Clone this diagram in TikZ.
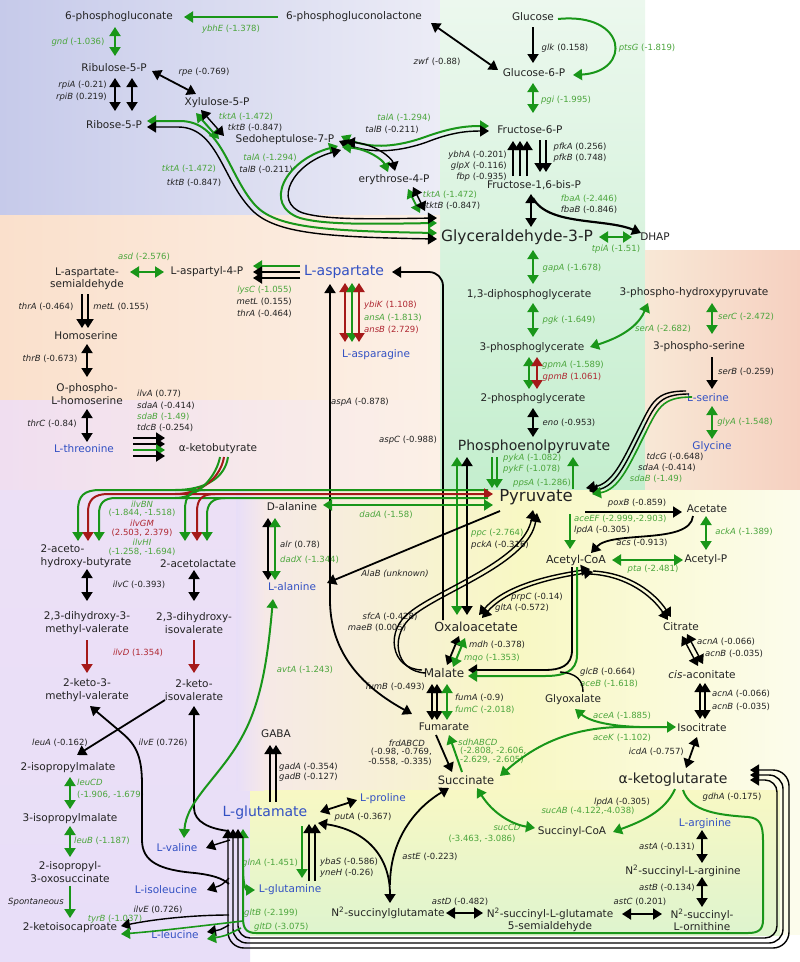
\documentclass[tikz,border=0pt]{standalone}
\usepackage{fontspec}
\setmainfont{DejaVu Sans}
\usetikzlibrary{arrows.meta}
\definecolor{gA}{RGB}{25,150,25}
\definecolor{gT}{RGB}{75,165,60}
\definecolor{rA}{RGB}{165,25,25}
\definecolor{rT}{RGB}{175,40,50}
\definecolor{bT}{RGB}{50,80,195}
\definecolor{kT}{RGB}{35,35,35}
\definecolor{bgBlue}{RGB}{198,202,234}
\definecolor{bgBlueW}{RGB}{236,236,246}
\definecolor{bgGreenT}{RGB}{236,248,238}
\definecolor{bgGreenB}{RGB}{196,238,206}
\definecolor{bgPeach}{RGB}{250,224,204}
\definecolor{bgPeachW}{RGB}{252,240,230}
\definecolor{bgPink}{RGB}{240,222,240}
\definecolor{bgSalmon}{RGB}{246,208,192}
\definecolor{bgSalmonW}{RGB}{248,232,214}
\definecolor{bgLav}{RGB}{236,224,246}
\definecolor{bgLavB}{RGB}{232,222,248}
\definecolor{bgPinkY}{RGB}{246,232,232}
\definecolor{bgYel}{RGB}{248,248,196}
\definecolor{bgYelW}{RGB}{252,252,236}
\definecolor{bgGbox}{RGB}{222,244,206}
\tikzset{
  met/.style={font=\fontsize{10.5}{12.5}\selectfont, text=kT, inner sep=0.5pt, align=center},
  aam/.style={met, text=bT},
  bigm/.style={font=\fontsize{14}{16}\selectfont, text=kT, inner sep=0.5pt},
  bigaa/.style={bigm, text=bT},
  gn/.style={font=\fontsize{8.5}{9.8}\selectfont, text=kT, inner sep=0pt},
  gng/.style={gn, text=gT},
  gnr/.style={gn, text=rT},
  kl/.style={draw=black, line width=1.8pt},
  kt/.style={draw=black, line width=1.4pt},
  gl/.style={draw=gA, line width=2pt},
  rl/.style={draw=rA, line width=2pt},
}
\begin{document}
\begin{tikzpicture}[x=1pt,y=-1pt,>={Triangle[width=11pt,length=9pt]},line join=round]
\useasboundingbox (0,0) rectangle (800,962);
% ---------- backgrounds ----------
\fill[white] (0,0) rectangle (800,962);
\shade[left color=bgBlue, right color=bgBlueW] (0,0) rectangle (440,215);
\shade[top color=bgGreenT, bottom color=bgGreenB] (440,0) rectangle (645,490);
\shade[left color=bgPeach, right color=bgPeachW] (0,215) rectangle (440,400);
\shade[left color=bgPink, right color=bgPeachW] (0,400) rectangle (440,490);
\shade[left color=bgSalmonW, right color=bgSalmon] (645,250) rectangle (800,490);
\shade[top color=bgLav, bottom color=bgLavB] (0,490) rectangle (250,962);
\shade[left color=bgPinkY, right color=bgYel] (250,490) rectangle (520,790);
\shade[left color=bgYel, right color=bgYelW] (520,490) rectangle (800,790);
\shade[top color=bgYel, bottom color=bgGbox] (250,790) rectangle (780,935);
\fill[bgYelW] (780,790) rectangle (800,935);
\shade[left color=bgLavB, right color=bgPinkY] (236,490) rectangle (264,790);

% ---------- metabolites ----------
\node[met] (pg6) at (119,17) {6-phosphogluconate};
\node[met] (pgl) at (354,17) {6-phosphogluconolactone};
\node[met] (glc) at (533,17) {Glucose};
\node[met] (g6p) at (534,73) {Glucose-6-P};
\node[met] (ru5p) at (114,68) {Ribulose-5-P};
\node[met] (x5p) at (217,103) {Xylulose-5-P};
\node[met] (r5p) at (114,125) {Ribose-5-P};
\node[met] (s7p) at (285,140) {Sedoheptulose-7-P};
\node[met] (f6p) at (530,130) {Fructose-6-P};
\node[met] (e4p) at (394,180) {erythrose-4-P};
\node[met] (fbp) at (534,185) {Fructose-1,6-bis-P};
\node[font=\fontsize{15.5}{18}\selectfont,text=kT,inner sep=0.5pt] (g3p) at (517,237) {Glyceraldehyde-3-P};
\node[met] (dhap) at (655,237) {DHAP};
\node[met] (bpg) at (529,295) {1,3-diphosphoglycerate};
\node[met] (pg3) at (532,348) {3-phosphoglycerate};
\node[met] (pg2) at (533,399) {2-phosphoglycerate};
\node[bigm] (pep) at (534,447) {Phosphoenolpyruvate};
\node[font=\fontsize{16.5}{19}\selectfont,text=kT,inner sep=0.5pt] (pyr) at (536,497) {Pyruvate};
\node[met] (php) at (694,293) {3-phospho-hydroxypyruvate};
\node[met] (pser) at (699,347) {3-phospho-serine};
\node[aam] (ser) at (708,398) {L-serine};
\node[aam] (gly) at (712,447) {Glycine};
\node[bigaa] (asp) at (344,272) {L-aspartate};
\node[aam] (asn) at (376,355) {L-asparagine};
\node[met] (asp4p) at (207,272) {L-aspartyl-4-P};
\node[met] (asa) at (87,279) {L-aspartate-\\semialdehyde};
\node[met] (hom) at (86,336) {Homoserine};
\node[met] (ohs) at (87,394) {O-phospho-\\L-homoserine};
\node[aam] (thr) at (84,449) {L-threonine};
\node[met] (akb) at (218,449) {α-ketobutyrate};
\node[met,align=left,anchor=west] (aohb) at (40,556) {2-aceto-\\hydroxy-butyrate};
\node[met] (alac) at (198,564) {2-acetolactate};
\node[met] (dhmv) at (87,623) {2,3-dihydroxy-3-\\methyl-valerate};
\node[met] (dhiv) at (194,623) {2,3-dihydroxy-\\isovalerate};
\node[met] (kmv) at (87,690) {2-keto-3-\\methyl-valerate};
\node[met] (kiv) at (194,690) {2-keto-\\isovalerate};
\node[met] (ipm) at (68,768) {2-isopropylmalate};
\node[met] (ipm3) at (70,819) {3-isopropylmalate};
\node[met] (ipos) at (70,872) {2-isopropyl-\\3-oxosuccinate};
\node[met] (kic) at (70,928) {2-ketoisocaproate};
\node[aam] (val) at (177,848) {L-valine};
\node[aam] (ile) at (166,890) {L-isoleucine};
\node[aam] (leu) at (175,935) {L-leucine};
\node[met] (dala) at (292,507) {D-alanine};
\node[aam] (lala) at (292,587) {L-alanine};
\node[met,font=\fontsize{12.5}{14}\selectfont] (oaa) at (476,627) {Oxaloacetate};
\node[met,font=\fontsize{12}{14}\selectfont] (mal) at (444,673) {Malate};
\node[met] (fum) at (444,727) {Fumarate};
\node[met,font=\fontsize{11.5}{14}\selectfont] (succ) at (466,780) {Succinate};
\node[met] (glx) at (573,700) {Glyoxalate};
\node[met] (cit) at (681,627) {Citrate};
\node[met] (cis) at (702,675) {\textit{cis}-aconitate};
\node[met] (icit) at (702,728) {Isocitrate};
\node[bigm] (akg) at (673,780) {α-ketoglutarate};
\node[met] (succoa) at (572,832) {Succinyl-CoA};
\node[met,font=\fontsize{11}{13}\selectfont] (accoa) at (576,560) {Acetyl-CoA};
\node[met] (acet) at (707,509) {Acetate};
\node[met] (acp) at (706,560) {Acetyl-P};
\node[bigaa] (glu) at (265,813) {L-glutamate};
\node[met] (gaba) at (276,734) {GABA};
\node[aam] (pro) at (383,799) {L-proline};
\node[aam] (gln) at (290,890) {L-glutamine};
\node[met] (nsg) at (388,913) {N\textsuperscript{2}-succinylglutamate};
\node[met] (nsgs) at (550,920) {N\textsuperscript{2}-succinyl-L-glutamate\\5-semialdehyde};
\node[met] (nso) at (702,920) {N\textsuperscript{2}-succinyl-\\L-ornithine};
\node[met] (nsa) at (683,871) {N\textsuperscript{2}-succinyl-L-arginine};
\node[aam] (arg) at (705,824) {L-arginine};

% ---------- gene labels ----------
\node[gng] (t1) at (78,42) {\textit{gnd} (-1.036)};
\node[gng] (t2) at (231,29) {\textit{ybhE} (-1.378)};
\node[gn] (t3) at (437,62) {\textit{zwf} (-0.88)};
\node[gn] (t4) at (565,48) {\textit{glk} (0.158)};
\node[gng] (t5) at (647,48) {\textit{ptsG} (-1.819)};
\node[gng] (t6) at (566,100) {\textit{pgi} (-1.995)};
\node[gn] (t7) at (204,72) {\textit{rpe} (-0.769)};
\node[gn,anchor=east] (t8) at (107,85) {\textit{rpiA} (-0.21)};
\node[gn,anchor=east] (t9) at (107,97) {\textit{rpiB} (0.219)};
\node[gng] (t10) at (246,117) {\textit{tktA} (-1.472)};
\node[gn] (t11) at (255,128) {\textit{tktB} (-0.847)};
\node[gng] (t12) at (189,169) {\textit{tktA} (-1.472)};
\node[gn] (t13) at (194,183) {\textit{tktB} (-0.847)};
\node[gng] (t14) at (270,158) {\textit{talA} (-1.294)};
\node[gn] (t15) at (266,170) {\textit{talB} (-0.211)};
\node[gng] (t16) at (404,118) {\textit{talA} (-1.294)};
\node[gn] (t17) at (392,130) {\textit{talB} (-0.211)};
\node[gng] (t18) at (450,195) {\textit{tktA} (-1.472)};
\node[gn] (t19) at (453,206) {\textit{tktB} (-0.847)};
\node[gn,anchor=east] (t20) at (507,155) {\textit{ybhA} (-0.201)};
\node[gn,anchor=east] (t21) at (507,166) {\textit{glpX} (-0.116)};
\node[gn,anchor=east] (t22) at (507,177) {\textit{fbp} (-0.935)};
\node[gn] (t23) at (580,147) {\textit{pfkA} (0.256)};
\node[gn] (t24) at (580,158) {\textit{pfkB} (0.748)};
\node[gng] (t25) at (589,199) {\textit{fbaA} (-2.446)};
\node[gn] (t26) at (589,210) {\textit{fbaB} (-0.846)};
\node[gng] (t27) at (616,249) {\textit{tpiA} (-1.51)};
\node[gng] (t28) at (572,268) {\textit{gapA} (-1.678)};
\node[gng] (t29) at (569,320) {\textit{pgk} (-1.649)};
\node[gng] (t30) at (573,365) {\textit{gpmA} (-1.589)};
\node[gnr] (t31) at (572,377) {\textit{gpmB} (1.061)};
\node[gn] (t32) at (569,423) {\textit{eno} (-0.953)};
\node[gng] (t33) at (663,329) {\textit{serA} (-2.682)};
\node[gng] (t34) at (746,317) {\textit{serC} (-2.472)};
\node[gn] (t35) at (746,372) {\textit{serB} (-0.259)};
\node[gng] (t36) at (745,422) {\textit{glyA} (-1.548)};
\node[gn] (t37) at (675,457) {\textit{tdcG} (-0.648)};
\node[gn] (t38) at (667,468) {\textit{sdaA} (-0.414)};
\node[gng] (t39) at (656,479) {\textit{sdaB} (-1.49)};
\node[gng,anchor=west] (t40) at (503,458) {\textit{pykA} (-1.082)};
\node[gng,anchor=west] (t41) at (503,469) {\textit{pykF} (-1.078)};
\node[gng,anchor=west] (t42) at (513,483) {\textit{ppsA} (-1.286)};
\node[gng] (t43) at (144,257) {\textit{asd} (-2.576)};
\node[gng,anchor=east] (t44) at (292,290) {\textit{lysC} (-1.055)};
\node[gn,anchor=east] (t45) at (292,302) {\textit{metL} (0.155)};
\node[gn,anchor=east] (t46) at (292,314) {\textit{thrA} (-0.464)};
\node[gnr,anchor=west] (t47) at (364,305) {\textit{ybiK} (1.108)};
\node[gng,anchor=west] (t48) at (364,318) {\textit{ansA} (-1.813)};
\node[gnr,anchor=west] (t49) at (364,330) {\textit{ansB} (2.729)};
\node[gn] (t50) at (46,307) {\textit{thrA} (-0.464)};
\node[gn] (t51) at (121,307) {\textit{metL} (0.155)};
\node[gn] (t52) at (50,359) {\textit{thrB} (-0.673)};
\node[gn] (t53) at (52,424) {\textit{thrC} (-0.84)};
\node[gn,anchor=west] (t54) at (137,394) {\textit{ilvA} (0.77)};
\node[gn,anchor=west] (t55) at (137,406) {\textit{sdaA} (-0.414)};
\node[gng,anchor=west] (t56) at (137,417) {\textit{sdaB} (-1.49)};
\node[gn,anchor=west] (t57) at (137,428) {\textit{tdcB} (-0.254)};
\node[gn] (t58) at (360,402) {\textit{aspA} (-0.878)};
\node[gn] (t59) at (408,440) {\textit{aspC} (-0.988)};
\node[gng] (t60) at (142,504) {\textit{ilvBN}};
\node[gng] (t61) at (142,513) {(-1.844, -1.518)};
\node[gnr] (t62) at (142,523) {\textit{ilvGM}};
\node[gnr] (t63) at (142,533) {(2.503, 2.379)};
\node[gng] (t64) at (142,542) {\textit{ilvHI}};
\node[gng] (t65) at (142,552) {(-1.258, -1.694)};
\node[gn] (t66) at (139,585) {\textit{ilvC} (-0.393)};
\node[gnr] (t67) at (138,653) {\textit{ilvD} (1.354)};
\node[gng] (t68) at (386,515) {\textit{dadA} (-1.58)};
\node[gn,anchor=west] (t69) at (280,545) {\textit{alr} (0.78)};
\node[gng,anchor=west] (t70) at (280,560) {\textit{dadX} (-1.344)};
\node[gn] (t71) at (395,574) {\textit{AlaB (unknown)}};
\node[gng] (t72) at (305,670) {\textit{avtA} (-1.243)};
\node[gng,anchor=west] (t73) at (471,533) {\textit{ppc} (-2.764)};
\node[gn,anchor=west] (t74) at (471,545) {\textit{pckA} (-0.316)};
\node[gn] (t75) at (637,503) {\textit{poxB} (-0.859)};
\node[gng,anchor=west] (t76) at (574,519) {\textit{aceEF} (-2.999,-2.903)};
\node[gn,anchor=west] (t77) at (574,530) {\textit{lpdA} (-0.305)};
\node[gn] (t78) at (642,543) {\textit{acs} (-0.913)};
\node[gng] (t79) at (744,532) {\textit{ackA} (-1.389)};
\node[gng] (t80) at (653,569) {\textit{pta} (-2.481)};
\node[gn] (t81) at (537,597) {\textit{prpC} (-0.14)};
\node[gn] (t82) at (522,608) {\textit{gltA} (-0.572)};
\node[gn] (t83) at (390,617) {\textit{sfcA} (-0.428)};
\node[gn] (t84) at (377,628) {\textit{maeB} (0.005)};
\node[gn,anchor=west] (t85) at (469,645) {\textit{mdh} (-0.378)};
\node[gng,anchor=west] (t86) at (464,658) {\textit{mqo} (-1.353)};
\node[gn,anchor=east] (t87) at (425,687) {\textit{fumB} (-0.493)};
\node[gn,anchor=west] (t88) at (455,698) {\textit{fumA} (-0.9)};
\node[gng,anchor=west] (t89) at (455,710) {\textit{fumC} (-2.018)};
\node[gn,anchor=west] (t90) at (580,672) {\textit{glcB} (-0.664)};
\node[gng,anchor=west] (t91) at (580,684) {\textit{aceB} (-1.618)};
\node[gng] (t92) at (622,716) {\textit{aceA} (-1.885)};
\node[gng] (t93) at (622,738) {\textit{aceK} (-1.102)};
\node[gn,anchor=west] (t94) at (697,642) {\textit{acnA} (-0.066)};
\node[gn,anchor=west] (t95) at (705,654) {\textit{acnB} (-0.035)};
\node[gn,anchor=west] (t96) at (712,694) {\textit{acnA} (-0.066)};
\node[gn,anchor=west] (t97) at (712,707) {\textit{acnB} (-0.035)};
\node[gn,anchor=east] (t98) at (684,752) {\textit{icdA} (-0.757)};
\node[gn,anchor=east] (t99) at (425,743) {\textit{frdABCD}};
\node[gn,anchor=east] (t100) at (432,752) {(-0.98, -0.769,};
\node[gn,anchor=east] (t101) at (432,762) {-0.558, -0.335)};
\node[gng,anchor=west] (t102) at (458,742) {\textit{sdhABCD}};
\node[gng,anchor=west] (t103) at (460,751) {(-2.808, -2.606,};
\node[gng,anchor=west] (t104) at (460,760) {-2.629, -2.605)};
\node[gn] (t105) at (622,802) {\textit{lpdA} (-0.305)};
\node[gng] (t106) at (588,811) {\textit{sucAB} (-4.122,-4.038)};
\node[gn] (t107) at (732,797) {\textit{gdhA} (-0.175)};
\node[gng] (t108) at (507,827) {\textit{sucCD}};
\node[gng] (t109) at (482,839) {(-3.463, -3.086)};
\node[gn,anchor=west] (t110) at (279,767) {\textit{gadA} (-0.354)};
\node[gn,anchor=west] (t111) at (279,777) {\textit{gadB} (-0.127)};
\node[gn] (t112) at (363,817) {\textit{putA} (-0.367)};
\node[gng] (t113) at (270,863) {\textit{glnA} (-1.451)};
\node[gn,anchor=west] (t114) at (320,862) {\textit{ybaS} (-0.586)};
\node[gn,anchor=west] (t115) at (320,873) {\textit{yneH} (-0.26)};
\node[gng,anchor=west] (t116) at (244,913) {\textit{gltB} (-2.199)};
\node[gng,anchor=west] (t117) at (254,927) {\textit{gltD} (-3.075)};
\node[gn] (t118) at (430,857) {\textit{astE} (-0.223)};
\node[gn] (t119) at (460,902) {\textit{astD} (-0.482)};
\node[gn] (t120) at (640,902) {\textit{astC} (0.201)};
\node[gn] (t121) at (667,847) {\textit{astA} (-0.131)};
\node[gn] (t122) at (667,888) {\textit{astB} (-0.134)};
\node[gn] (t123) at (60,743) {\textit{leuA} (-0.162)};
\node[gn] (t124) at (163,743) {\textit{ilvE} (0.726)};
\node[gng,anchor=west] (t125) at (77,782) {\textit{leuCD}};
\node[gng,anchor=west] (t126) at (77,795) {(-1.906, -1.679)};
\node[gng,anchor=west] (t127) at (74,841) {\textit{leuB} (-1.187)};
\node[gn] (t128) at (36,902) {\textit{Spontaneous}};
\node[gn] (t129) at (158,910) {\textit{ilvE} (0.726)};
\node[gng] (t130) at (115,919) {\textit{tyrB} (-1.037)};

% ---------- pentose phosphate / glycolysis ----------
\draw[gl,<->] (115,27) -- (115,56);
\draw[gl,->] (278,17) -- (184,17);
\draw[kl,<->] (431,23) -- (498,70);
\draw[kl,->] (533,27) -- (533,63);
\draw[gl,->] (558,19) .. controls (628,12) and (632,72) .. (573,75);
\draw[gl,<->] (533,83) -- (533,113);
\draw[kl,<->] (152,71) -- (196,94);
\draw[kl,<->] (115,78) -- (115,111);
\draw[kl,<->] (132,78) -- (132,111);
\draw[gl,<->] (196,113) -- (219,139);
\draw[kt,<->] (201,110) -- (224,136);
% R5P <-> G3P
\draw[gl,<->] (147,121) -- (180,121) .. controls (222,121) and (228,175) .. (255,205) .. controls (275,227) and (320,231) .. (437,233);
\draw[kt,<->] (147,127) -- (178,127) .. controls (217,127) and (222,178) .. (250,208) .. controls (272,233) and (320,237) .. (437,239);
% S7P loop to G3P
\draw[gl,<->] (338,146) .. controls (285,160) and (262,205) .. (300,218) .. controls (325,225) and (370,224) .. (437,223);
\draw[kt,<->] (341,150) .. controls (293,163) and (272,202) .. (303,213) .. controls (327,220) and (370,219) .. (437,218);
% S7P <-> F6P
\draw[gl,<->] (341,136) .. controls (372,150) and (400,146) .. (425,137) .. controls (450,128) and (465,126) .. (489,126);
\draw[kt,<->] (339,141) .. controls (372,155) and (402,151) .. (427,142) .. controls (450,133) and (465,131) .. (489,131);
% S7P <-> E4P
\draw[gl,<->] (342,147) .. controls (368,149) and (383,160) .. (388,172);
\draw[kt,<->] (346,142) .. controls (375,144) and (392,158) .. (395,171);
% E4P <-> G3P
\draw[gl,<->] (408,189) -- (420,213);
\draw[kt,<->] (413,187) -- (425,211);
% F6P / FBP
\draw[kl,->] (540,140) -- (540,172);
\draw[kl,->] (546,140) -- (546,172);
\draw[kl,->] (513,176) -- (513,141);
\draw[kl,->] (520,176) -- (520,141);
\draw[kl,->] (527,176) -- (527,141);
\draw[kl,<->] (531,194) -- (531,227);
\draw[kl,line width=2.2pt,->] (533,198) .. controls (548,226) and (605,218) .. (641,233);
\draw[gl,<->] (599,237) -- (632,237);
\draw[gl,<->] (533,250) -- (533,284);
\draw[gl,<->] (533,303) -- (533,337);
\draw[gl,<->] (529,357) -- (529,389);
\draw[rl,<->] (537,357) -- (537,389);
\draw[kl,<->] (533,408) -- (533,437);
% PEP / pyruvate
\draw[gl,->] (492,457) -- (492,488);
\draw[gl,->] (497,457) -- (497,488);
\draw[gl,->] (573,489) -- (573,457);
\draw[gl,<->] (457,457) -- (457,615);
\draw[kl,<->] (467,457) -- (467,615);
% serine
\draw[gl,<->] (590,347) .. controls (628,335) and (640,322) .. (648,303);
\draw[gl,<->] (712,303) -- (712,334);
\draw[kl,->] (712,357) -- (712,389);
\draw[gl,<->] (712,406) -- (712,439);
\draw[kt,->] (686,391) .. controls (655,391) and (652,402) .. (637,432) .. controls (622,462) and (612,484) .. (586,488);
\draw[kt,->,shift={(3,3)}] (686,391) .. controls (655,391) and (652,402) .. (637,432) .. controls (622,462) and (612,484) .. (586,488);
\draw[gl,line width=1.6pt,->,shift={(6,6)}] (686,391) .. controls (655,391) and (652,402) .. (637,432) .. controls (622,462) and (612,484) .. (586,488);

% ---------- aspartate family ----------
\draw[gl,<->] (130,272) -- (164,272);
\draw[gl,->] (300,266) -- (253,266);
\draw[kl,->] (300,272) -- (253,272);
\draw[kl,->] (300,278) -- (253,278);
\draw[rl,<->] (345,283) -- (345,342);
\draw[gl,<->] (352,283) -- (352,342);
\draw[rl,<->] (359,283) -- (359,342);
\draw[kl,<->] (330,284) -- (330,600) .. controls (330,660) and (372,692) .. (412,714);
\draw[kl,->,rounded corners=14] (443,620) -- (443,272) -- (392,272);
\draw[kl,->] (82,294) -- (82,328);
\draw[kl,->] (88,294) -- (88,328);
\draw[kl,<->] (87,344) -- (87,377);
\draw[kl,<->] (87,409) -- (87,442);
\draw[kl,->] (133,438) -- (165,438);
\draw[kl,->] (133,444) -- (165,444);
\draw[gl,->] (133,450) -- (165,450);
\draw[kl,->] (133,456) -- (165,456);

% ---------- branched chain ----------
\draw[gl] (228,457) .. controls (225,478) and (205,490) .. (175,490);
\draw[rl] (224,457) .. controls (221,476) and (203,494) .. (175,494);
\draw[gl] (220,457) .. controls (217,474) and (200,498) .. (175,498);
\draw[gl,->] (488,490) -- (100,490) .. controls (84,490) and (78,496) .. (78,510) -- (78,541);
\draw[rl,<->] (88,541) -- (88,512) .. controls (88,500) and (94,494) .. (108,494) -- (493,494);
\draw[gl,->] (488,498) -- (116,498) .. controls (104,498) and (99,503) .. (99,514) -- (99,541);
\draw[gl,->] (205,490) .. controls (190,490) and (185,496) .. (185,510) -- (185,541);
\draw[rl,->] (215,494) .. controls (201,494) and (197,500) .. (197,512) -- (197,541);
\draw[gl,->] (225,498) .. controls (212,498) and (207,504) .. (207,515) -- (207,541);
\draw[kl,<->] (87,569) -- (87,601);
\draw[kl,<->] (194,570) -- (194,601);
\draw[rl,->] (87,640) -- (87,673);
\draw[rl,->] (194,640) -- (194,673);
\draw[kl,->] (165,700) -- (77,755);
\draw[kl,<-] (90,706) -- (122,733) .. controls (138,746) and (142,760) .. (142,785) -- (142,840) .. controls (142,862) and (160,870) .. (195,873) .. controls (212,875) and (222,878) .. (229,884);
\draw[kl,<-] (194,706) -- (194,808) .. controls (194,822) and (210,829) .. (229,831);
\draw[gl,<->] (70,777) -- (70,809);
\draw[gl,<->] (70,826) -- (70,857);
\draw[gl,->] (70,886) -- (70,918);
\draw[gl,<->] (273,599) .. controls (268,655) and (262,700) .. (243,735) .. controls (222,775) and (186,800) .. (184,838);

% ---------- alanine ----------
\draw[gl,<->] (323,505) -- (493,505);
\draw[kl,<->] (268,518) -- (268,580);
\draw[gl,<->] (275,518) -- (275,580);
\draw[kl,->] (500,511) -- (327,583);

% ---------- TCA ----------
\draw[kt,->] (422,670) .. controls (390,669) and (385,630) .. (410,612) .. controls (440,588) and (525,560) .. (533,510);
\draw[kt,->,shift={(4,3)}] (422,670) .. controls (390,669) and (385,630) .. (410,612) .. controls (440,588) and (525,560) .. (533,510);
\draw[kt,<->] (479,615) .. controls (505,585) and (550,575) .. (590,569);
\draw[kt,<->,shift={(3,3)}] (479,615) .. controls (505,585) and (550,575) .. (590,569);
\draw[kt,->] (593,571) .. controls (630,573) and (655,593) .. (671,617);
\draw[kt,->,shift={(-3,3)}] (593,571) .. controls (630,573) and (655,593) .. (671,617);
\draw[kl,<->] (459,636) -- (447,665);
\draw[gl,<->] (465,638) -- (453,667);
\draw[kt,<->] (432,684) -- (432,720);
\draw[kt,<->] (437,684) -- (437,720);
\draw[gl,<->] (447,684) -- (447,720);
\draw[kl,->] (436,735) -- (452,772);
\draw[gl,->] (462,772) -- (449,735);
\draw[kl,->] (572,567) -- (572,650) .. controls (572,666) and (560,670) .. (545,670) -- (468,670);
\draw[gl,->] (577,567) -- (577,655) .. controls (577,672) and (563,676) .. (545,676) -- (468,676);
\draw[kt] (583,692) .. controls (583,680) and (576,673) .. (560,672);
\draw[gl,<->] (500,776) .. controls (535,745) and (570,728) .. (620,727) -- (676,727);
\draw[gl,->] (640,727) .. controls (605,726) and (588,720) .. (575,709);
\draw[kt,<->] (682,636) -- (698,666);
\draw[kt,<->] (687,634) -- (703,664);
\draw[kt,<->] (700,683) -- (700,719);
\draw[kt,<->] (705,683) -- (705,719);
\draw[kl,<->] (697,737) -- (686,768);
\draw[gl,->] (675,789) .. controls (665,812) and (640,822) .. (613,832);
\draw[gl,<->] (477,788) .. controls (492,812) and (510,824) .. (535,828);
\draw[kl,->] (585,512) -- (682,512);
\draw[gl,<->] (706,516) -- (706,550);
\draw[gl,<->] (612,560) -- (683,560);
\draw[kl,->] (693,516) .. controls (690,545) and (612,530) .. (591,553);
\draw[gl,->] (570,514) -- (570,549);

% ---------- glutamate ----------
\draw[kl,->] (270,802) -- (270,745);
\draw[kl,->] (276,802) -- (276,745);
\draw[kl,<->] (320,812) -- (357,800);
\draw[gl,->] (302,826) -- (302,878);
\draw[kl,->] (309,881) -- (309,824);
\draw[kl,->] (315,881) -- (315,824);
\draw[kl,<->] (318,823) .. controls (365,830) and (390,855) .. (390,903);
\draw[kl,->] (390,885) .. controls (390,835) and (420,805) .. (449,788);
\draw[kl,<->] (446,913) -- (483,913);
\draw[kl,<->] (622,914) -- (662,914);
\draw[kl,<->] (702,877) -- (702,907);
\draw[kl,<->] (702,830) -- (702,863);
% gdhA
\draw[gl,->] (683,790) .. controls (690,812) and (720,815) .. (748,817) .. controls (760,818) and (763,825) .. (763,840) -- (763,920) .. controls (763,930) and (758,933) .. (748,933) -- (256,933) .. controls (246,933) and (243,928) .. (243,918) -- (243,829);
\draw[gl,->] (243,870) .. controls (243,884) and (246,890) .. (255,890);
% transaminase bundle
\draw[kt,<->,rounded corners=12] (238,829) -- (238,938) -- (777,938) -- (777,780) -- (750,780);
\draw[kt,<->,rounded corners=14] (233,829) -- (233,943) -- (783,943) -- (783,775) -- (750,775);
\draw[kt,<->,rounded corners=16] (228,829) -- (228,948) -- (789,948) -- (789,770) -- (750,770);
\draw[kt,->] (230,840) .. controls (222,842) .. (206,848);
\draw[kt,->] (229,878) .. controls (222,885) .. (207,890);
\draw[kt,->] (229,915) .. controls (200,915) and (160,918) .. (121,926);
\draw[gl,line width=1.6pt,->] (243,921) .. controls (200,926) and (160,931) .. (121,934);
\draw[kt,->] (229,925) .. controls (220,930) .. (207,932);
\draw[gl,line width=1.6pt,->] (241,928) .. controls (225,936) .. (207,939);
\end{tikzpicture}
\end{document}
